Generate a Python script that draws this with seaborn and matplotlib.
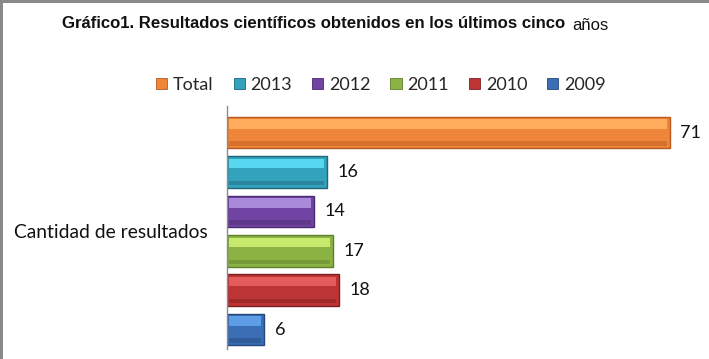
import matplotlib
matplotlib.use("Agg")
import matplotlib.pyplot as plt
import seaborn as sns
import pandas as pd
from matplotlib.patches import Rectangle

# ---- data ----
category = "Cantidad de resultados"
series = ["Total", "2013", "2012", "2011", "2010", "2009"]
values = [71, 16, 14, 17, 18, 6]
title_main = "Gráfico1. Resultados científicos obtenidos en los últimos cinco"
title_tail = "años"

# ---- styles ----
body_colors = ["#EE8538", "#33A3BD", "#7144A3", "#8BB344", "#BC3434", "#3A6FB6"]
top_colors = ["#FFAD5C", "#58D8F0", "#A88AD8", "#C8EA6C", "#E45C5C", "#5C9DE6"]
edge_colors = ["#B85A20", "#1F6478", "#4A2A70", "#5E7E2A", "#7E2020", "#25467A"]

sns.set_theme(style="white")
plt.rcParams["font.family"] = ["Lato", "DejaVu Sans"]

df = pd.DataFrame({"cat": [category] * len(series), "serie": series, "valor": values})

fig = plt.figure(figsize=(7.09, 3.59), dpi=100)
ax = fig.add_axes([227 / 709, 1 - 349 / 359, 474 / 709, 243 / 359])

sns.barplot(data=df, y="cat", x="valor", hue="serie", hue_order=series,
            palette=body_colors, orient="h", width=0.9, gap=0.2,
            dodge=True, legend=False, ax=ax, saturation=1)

# bevel-like highlights derived from the bars seaborn drew
bars = [p for p in ax.patches if isinstance(p, Rectangle) and p.get_width() > 0]
bars = sorted(bars, key=lambda p: p.get_y())
for p, tc, ec in zip(bars, top_colors, edge_colors):
    x0, y0, w, h = p.get_x(), p.get_y(), p.get_width(), p.get_height()
    p.set_edgecolor(ec)
    p.set_linewidth(1.0)
    ax.add_patch(Rectangle((x0 + 0.4, y0 + h * 0.08), w - 0.9, h * 0.30,
                           facecolor=tc, edgecolor="none", zorder=p.get_zorder() + 0.1))
    ax.add_patch(Rectangle((x0 + 0.4, y0 + h * 0.78), w - 0.9, h * 0.14,
                           facecolor=ec, alpha=0.45, edgecolor="none", zorder=p.get_zorder() + 0.1))

for cont in ax.containers:
    ax.bar_label(cont, padding=7.5, fontsize=13, color="#111111")

ax.set_xlim(0, 76)
ax.set_ylim(0.449, -0.476)
ax.set_xlabel("")
ax.set_ylabel("")
ax.set_xticks([])
ax.tick_params(axis="y", length=0, pad=13.5, labelsize=13.9, labelcolor="#111111")
for s in ["top", "right", "bottom"]:
    ax.spines[s].set_visible(False)
ax.spines["left"].set_color("#8C8C8C")
ax.spines["left"].set_linewidth(1.0)

# legend
handles = [Rectangle((0, 0), 1, 1, facecolor=c, edgecolor=e, linewidth=0.6)
           for c, e in zip(body_colors, edge_colors)]
fig.legend(handles, series, loc="center", bbox_to_anchor=(381 / 709, 1 - 85 / 359),
           ncol=6, frameon=False, fontsize=13, handlelength=0.61, handleheight=0.61,
           handletextpad=0.33, columnspacing=1.1, borderaxespad=0, borderpad=0)

fig.text(62 / 709, 1 - 23 / 359, title_main, ha="left", va="center", fontsize=12.1,
         fontweight="bold", family=["Liberation Sans", "DejaVu Sans"], color="#111111")
fig.text(572 / 709, 1 - 25 / 359, title_tail, ha="left", va="center", fontsize=12,
         family=["Liberation Sans", "DejaVu Sans"], color="#111111")

# frame remnants
fig.add_artist(Rectangle((0, 1 - 2.5 / 359), 1, 2.5 / 359, transform=fig.transFigure,
                         facecolor="#8A8A8A", edgecolor="none"))
fig.add_artist(Rectangle((0, 0), 2.5 / 709, 1, transform=fig.transFigure,
                         facecolor="#8A8A8A", edgecolor="none"))

fig.savefig("out.png", dpi=100)
